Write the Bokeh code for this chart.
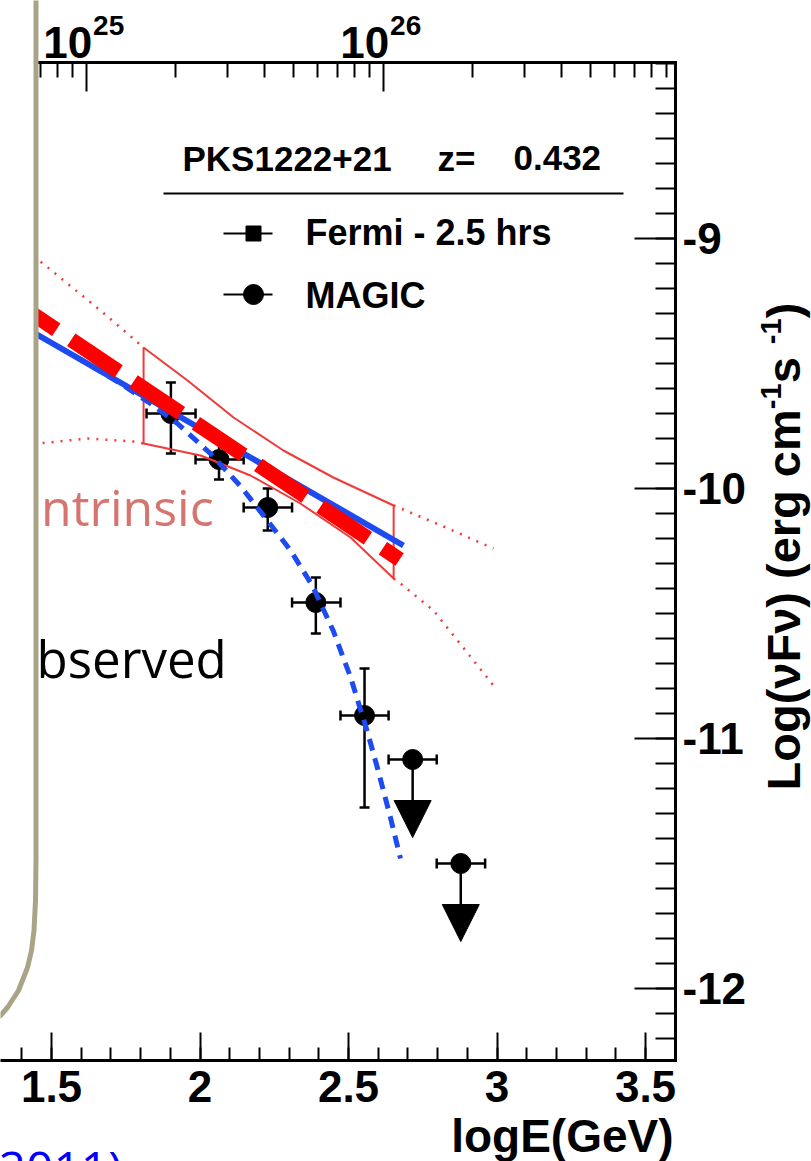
import math
from bokeh.plotting import figure
from bokeh.models import (Range1d, LinearAxis, LogAxis, LogScale, FixedTicker,
                          CustomJSTickFormatter, Label, PolyAnnotation,
                          Arrow, NormalHead, ColumnDataSource)
from bokeh.core.properties import value
from bokeh.embed import file_html
from bokeh.resources import INLINE

# ---------------- data: log10 E (GeV), log10 nuFnu (erg cm^-2 s^-1) ----------------
magic_logE    = [1.902, 2.064, 2.228, 2.390, 2.554]
magic_logE_lo = [1.820, 1.985, 2.147, 2.310, 2.473]
magic_logE_hi = [1.985, 2.147, 2.310, 2.473, 2.635]
magic_flux    = [-9.700, -9.884, -10.076, -10.456, -10.908]
magic_flux_lo = [-9.860, -9.964, -10.168, -10.580, -11.276]
magic_flux_hi = [-9.576, -9.804, -10.000, -10.356, -10.720]

ul_logE    = [2.716, 2.878]
ul_logE_lo = [2.635, 2.797]
ul_logE_hi = [2.797, 2.960]
ul_flux    = [-11.084, -11.500]

fermi_upper_x = [1.810, 1.958, 2.113, 2.281, 2.449, 2.652]
fermi_upper_y = [-9.436, -9.568, -9.716, -9.848, -9.956, -10.068]
fermi_lower_x = [1.810, 2.002, 2.170, 2.338, 2.507, 2.652]
fermi_lower_y = [-9.820, -9.868, -9.948, -10.060, -10.196, -10.360]

extrap_upper_left_x  = [1.440, 1.665, 1.810]
extrap_upper_left_y  = [-9.070, -9.288, -9.436]
extrap_lower_left_x  = [1.440, 1.621, 1.776, 1.810]
extrap_lower_left_y  = [-9.822, -9.800, -9.812, -9.820]
extrap_upper_right_x = [2.652, 2.820, 2.988]
extrap_upper_right_y = [-10.068, -10.152, -10.240]
extrap_lower_right_x = [2.652, 2.675, 2.786, 2.886, 2.988]
extrap_lower_right_y = [-10.360, -10.380, -10.488, -10.636, -10.788]

intrinsic_x = [1.3566, 2.672]
intrinsic_y = [-9.238, -10.284]

observed_pl_x = [1.3400, 2.685]
observed_pl_y = [-9.308, -10.228]

ebl_x = [1.340, 1.598, 1.732, 1.833, 1.924, 2.035, 2.136, 2.227, 2.305, 2.379,
         2.449, 2.507, 2.564, 2.598, 2.641, 2.675]
ebl_y = [-9.310, -9.484, -9.580, -9.660, -9.740, -9.860, -9.990, -10.128, -10.248, -10.390,
         -10.570, -10.755, -10.975, -11.120, -11.315, -11.480]

x_major_ticks = [1.5, 2.0, 2.5, 3.0, 3.5]
x_minor_ticks = [round(1.4 + 0.1 * i, 1) for i in range(23)]        # 1.4 .. 3.6
y_major_ticks = [-12, -11, -10, -9]
y_minor_ticks = [round(-12.2 + 0.1 * i, 1) for i in range(40)]      # -12.2 .. -8.3
nu_decades = [25, 26]
nu_minor_ticks = [m * 10.0 ** e for e in (24, 25, 26) for m in range(2, 10)]
LOG_HZ_PER_GEV = 23.3835   # log10(1 GeV / h in Hz)

# plotted window of the (cropped) ROOT frame
x_frame_end = 3.601
y_frame = (-12.288, -8.296)

source_name = "PKS1222+21"
redshift = "0.432"
legend_labels = ["Fermi - 2.5 hrs", "MAGIC"]
x_title = "logE(GeV)"

# ---------------- layout: the frame fills the whole canvas ----------------
W, H = 811, 1161
SX, SY = 297.0, 250.0
X0 = 1.5 - 51 / SX
X1 = X0 + W / SX
Y1 = -9 + 238 / SY
Y0 = Y1 - H / SY


def px2x(px):   # canvas pixel -> data x (positioning helper for annotations)
    return X0 + px / SX


def py2y(py):
    return Y1 - py / SY


p = figure(width=W, height=H,
           x_range=Range1d(X0, X1), y_range=Range1d(Y0, Y1),
           x_axis_location=None, y_axis_location=None,
           toolbar_location=None, output_backend="svg",
           min_border=0, min_border_left=0, min_border_right=0,
           min_border_top=0, min_border_bottom=0,
           background_fill_color="white", border_fill_color="white",
           outline_line_color=None)
p.grid.visible = False

FONT = "Liberation Sans"


def style_axis(ax, maj_in, min_in, size):
    ax.axis_line_width = 3
    ax.axis_line_color = "black"
    ax.axis_line_cap = "square"
    ax.major_tick_in = maj_in
    ax.major_tick_out = 0
    ax.minor_tick_in = min_in
    ax.minor_tick_out = 0
    ax.major_tick_line_width = 2
    ax.minor_tick_line_width = 2
    ax.major_tick_line_color = "black"
    ax.minor_tick_line_color = "black"
    ax.major_label_text_font = FONT
    ax.major_label_text_font_style = "bold"
    ax.major_label_text_font_size = f"{size}px"
    ax.major_label_text_color = "black"


# bottom axis
bottom = LinearAxis(
    fixed_location=y_frame[0], bounds=(X0, x_frame_end),
    ticker=FixedTicker(ticks=x_major_ticks, minor_ticks=x_minor_ticks),
    formatter=CustomJSTickFormatter(code="return (Math.round(tick*10)/10).toString();"))
style_axis(bottom, 28, 13, 44)
bottom.major_label_standoff = 10
p.add_layout(bottom, "below")

# right axis
right = LinearAxis(
    fixed_location=x_frame_end, bounds=y_frame,
    ticker=FixedTicker(ticks=y_major_ticks, minor_ticks=y_minor_ticks),
    formatter=CustomJSTickFormatter(code="return tick.toFixed(0);"))
style_axis(right, 41, 20, 44)
right.major_label_standoff = 7
p.add_layout(right, "right")

# top axis: frequency (Hz), log scale
p.extra_x_ranges = {"nu": Range1d(10 ** (X0 + LOG_HZ_PER_GEV), 10 ** (X1 + LOG_HZ_PER_GEV))}
p.extra_x_scales = {"nu": LogScale()}
top = LogAxis(x_range_name="nu", fixed_location=y_frame[1],
              bounds=(10 ** (px2x(38) + LOG_HZ_PER_GEV), 10 ** (x_frame_end + LOG_HZ_PER_GEV)),
              ticker=FixedTicker(ticks=[10.0 ** d for d in nu_decades], minor_ticks=nu_minor_ticks),
              formatter=CustomJSTickFormatter(code="return '';"))
style_axis(top, 29, 15, 10)
p.add_layout(top, "above")

# ---------------- model curves & data ----------------
RED = "#FF0000"
LRED = "#F03A3A"
BLUE = "#1E4BF0"

# MAGIC error bars
EB = dict(line_color="black", line_width=2.5)
p.segment(x0=magic_logE, y0=magic_flux_lo, x1=magic_logE, y1=magic_flux_hi, **EB)
p.segment(x0=magic_logE_lo, y0=magic_flux, x1=magic_logE_hi, y1=magic_flux, **EB)
p.scatter(x=magic_logE + magic_logE, y=magic_flux_lo + magic_flux_hi, marker="dash",
          size=10, line_color="black", line_width=2.5)
p.scatter(x=magic_logE_lo + magic_logE_hi, y=magic_flux + magic_flux, marker="dash",
          angle=math.pi / 2, size=10, line_color="black", line_width=2.5)
p.scatter(x=magic_logE, y=magic_flux, marker="circle", size=20,
          fill_color="black", line_color="black")

# upper limits
p.segment(x0=ul_logE_lo, y0=ul_flux, x1=ul_logE_hi, y1=ul_flux, **EB)
p.scatter(x=ul_logE_lo + ul_logE_hi, y=ul_flux + ul_flux, marker="dash",
          angle=math.pi / 2, size=10, line_color="black", line_width=2.5)
p.scatter(x=ul_logE, y=ul_flux, marker="circle", size=20, fill_color="black", line_color="black")
ARROW_LEN = 78 / SY
ul_src = ColumnDataSource(dict(x=ul_logE, y=ul_flux, tip=[f - ARROW_LEN for f in ul_flux]))
p.add_layout(Arrow(end=NormalHead(size=37, fill_color="black", line_color="black", line_width=1),
                   x_start="x", y_start="y", x_end="x", y_end="tip", source=ul_src,
                   line_color="black", line_width=2.5))

# Fermi butterfly
p.patch(x=fermi_upper_x + fermi_lower_x[::-1], y=fermi_upper_y + fermi_lower_y[::-1],
        fill_color=None, line_color=LRED, line_width=2)
DOT = dict(line_color=LRED, line_width=2.5, line_dash="2 7")
p.line(extrap_upper_left_x, extrap_upper_left_y, **DOT)
p.line(extrap_lower_left_x, extrap_lower_left_y, **DOT)
p.line(extrap_upper_right_x, extrap_upper_right_y, **DOT)
p.line(extrap_lower_right_x, extrap_lower_right_y, **DOT)

# EBL-absorbed (observed) curve and power law
p.line(ebl_x, ebl_y, line_color=BLUE, line_width=5, line_dash="12 8")
p.line(observed_pl_x, observed_pl_y, line_color=BLUE, line_width=6)

# intrinsic spectrum
p.line(intrinsic_x, intrinsic_y, line_color=RED, line_width=15, line_dash="57 18")

# Bokeh anchors "middle" text at the centre of the font box: shift from the wanted baseline
K_LIB, K_OPEN = 0.35, 0.39

# slide texts (partly hidden by the slide panel)
p.text(x=[px2x(40.5)], y=[py2y(526 - K_OPEN * 50)], text=["ntrinsic"], text_font=value("Open Sans"),
       text_font_size="50px", text_color="#D6756F", text_baseline="middle", text_align="left")
p.text(x=[px2x(36)], y=[py2y(677 - K_OPEN * 51)], text=["bserved"], text_font=value("Open Sans"),
       text_font_size="51px", text_color="black", text_baseline="middle", text_align="left")

# ---------------- legend ----------------
p.segment(x0=[px2x(163)], y0=[py2y(193)], x1=[px2x(623)], y1=[py2y(193)],
          line_color="black", line_width=2)
leg_y = [py2y(233), py2y(294)]
p.segment(x0=[px2x(223)] * 2, y0=leg_y, x1=[px2x(272)] * 2, y1=leg_y,
          line_color="black", line_width=2)
p.scatter(x=[px2x(253)], y=[leg_y[0]], marker="square", size=15, fill_color="black", line_color="black")
p.scatter(x=[px2x(253)], y=[leg_y[1]], marker="circle", size=20, fill_color="black", line_color="black")


def lab(px, base_py, text, size, color="black", align="left", style="bold", font=FONT, k=K_LIB):
    """Label whose alphabetic baseline sits at canvas pixel row base_py."""
    p.add_layout(Label(x=px2x(px), y=py2y(base_py - k * size), text=text, text_font=font,
                       text_font_size=f"{round(size)}px", text_font_style=style,
                       text_color=color, text_align=align, text_baseline="middle"))


def vlab(base_px, start_py, text, size):
    """Text rotated 90 deg (reading upwards) whose baseline is the column base_px."""
    p.add_layout(Label(x=px2x(base_px - K_LIB * size), y=py2y(start_py), text=text, text_font=FONT,
                       text_font_size=f"{round(size)}px", text_font_style="bold",
                       text_color="black", text_align="left", text_baseline="middle",
                       angle=90, angle_units="deg"))


lab(182, 170, source_name, 35)
lab(437, 170, "z=", 35)
lab(513, 170, redshift, 35)
lab(305, 245, legend_labels[0], 36)
lab(305, 308, legend_labels[1], 36)

# ---------------- slide panel (covers left part of the plot) ----------------
panel = [(-10, -10), (35.5, -10), (35.5, 860), (35, 900), (33.5, 930), (31, 950),
         (27, 967), (18, 990), (7, 1007), (0, 1015), (-10, 1022)]
p.add_layout(PolyAnnotation(xs=[px2x(a) for a, b in panel], ys=[py2y(b) for a, b in panel],
                            fill_color="white", fill_alpha=1.0,
                            line_color="#A9A487", line_alpha=1.0, line_width=5))

# ---------------- axis titles & top labels ----------------
for d in nu_decades:
    tick_px = (d - LOG_HZ_PER_GEV - X0) * SX
    lab(tick_px + 6, 57, "10", 44, align="right")
    lab(tick_px + 7, 35, str(d), 28, align="left")

lab(673, 1152, x_title, 46, align="right")

# rotated y title built from pieces (Liberation Sans Bold advance widths, 1/1000 em)
ADV = {'L': 611, 'o': 611, 'g': 611, '(': 333, ')': 333, '\u03bd': 556, 'F': 611, ' ': 278,
       'e': 556, 'r': 389, 'c': 556, 'm': 889, 's': 556, '-': 333, '1': 556}
F = 47
pieces = [("Log(\u03bdF\u03bd) (erg cm", F, 0.0), ("-1", 0.62 * F, 0.40 * F), (" s", F, 0.0),
          ("-1", 0.62 * F, 0.40 * F), (")", F, 0.0)]
cur_py = 790
for txt, fs, raise_px in pieces:
    vlab(799 - raise_px, cur_py, txt, fs)
    cur_py -= sum(ADV[c] for c in txt) / 1000 * fs

# citation fragment at the bottom edge of the slide
lab(-2, 1186, "2011)", 48, color="#0000FF", style="normal", font="Open Sans", k=K_OPEN)

open("out.html", "w").write(file_html(p, INLINE))
